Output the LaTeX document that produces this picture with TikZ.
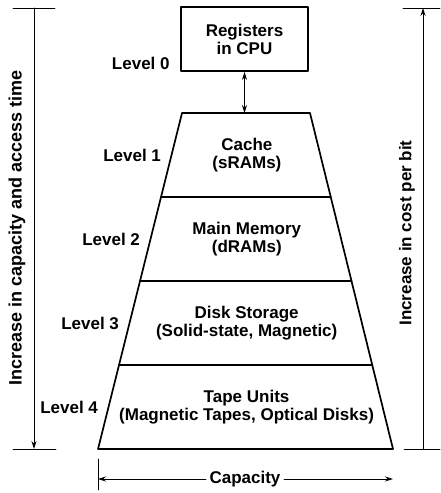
\documentclass[tikz,border=0pt]{standalone}
\usepackage{fontspec}
\setmainfont{Liberation Sans}
\usetikzlibrary{arrows.meta,calc}

\tikzset{
  lvl/.style={anchor=east,font=\bfseries\fontsize{17}{18}\selectfont},
  memtext/.style={align=center,font=\bfseries\fontsize{17}{18}\selectfont},
  axis/.style={line width=0.8pt},
  thickline/.style={line width=1.7pt},
  tip/.style={-{Stealth[length=8pt,width=5pt]}},
}

\begin{document}
\begin{tikzpicture}[x=1pt,y=-1pt,line cap=round,line join=round]
  \useasboundingbox (0,0) rectangle (440,493);

  % pyramid corners
  \coordinate (TL) at (182,113);
  \coordinate (TR) at (310,113);
  \coordinate (BL) at (98,449);
  \coordinate (BR) at (393,449);

  \draw[thickline] (TL) -- (TR) -- (BR) -- (BL) -- cycle;
  \foreach \t in {0.25,0.5,0.75}{
    \draw[thickline] ($(TL)!\t!(BL)$) -- ($(TR)!\t!(BR)$);
  }

  \node[draw,thickline,memtext,minimum width=127pt,minimum height=64pt] (reg) at (244.5,39) {Registers\\in CPU};
  \node[lvl] (lvl0) at ($(reg.south west)+(-7,-8)$) {Level 0};
  \draw[axis,{Stealth[length=8pt,width=5pt]}-{Stealth[length=8pt,width=5pt]}] (reg.south) -- (reg.south |- TL);

  \foreach \name/\t/\txt [count=\i] in {cache/0.125/{Cache\\(sRAMs)},
      mainmem/0.375/{Main Memory\\(dRAMs)},
      disk/0.625/{Disk Storage\\(Solid-state, Magnetic)},
      tape/0.875/{Tape Units\\(Magnetic Tapes, Optical Disks)}}{
    \node[memtext] (\name) at ($($(TL)!\t!(BL)$)!0.5!($(TR)!\t!(BR)$)+(1,0)$) {\txt};
    \node[lvl] (lvl\i) at ($($(TL)!\t!(BL)$)+(-7,0)$) {Level \i};
  }

  % left axis
  \coordinate (ltop) at (34,8);
  \coordinate (lbot) at (34,449);
  \draw[axis] ($(ltop)+(-21,0)$) -- ($(ltop)+(21,0)$);
  \draw[axis] ($(lbot)+(-21,0)$) -- ($(lbot)+(22,0)$);
  \draw[axis,tip] (ltop) -- (lbot);
  \node[memtext,rotate=90,font=\bfseries\fontsize{18}{19}\selectfont] (acctime) at (17,228) {Increase in capacity and access time};

  % right axis
  \coordinate (rtop) at (423,8);
  \coordinate (rbot) at (423,449);
  \draw[axis] ($(rtop)+(-20,0)$) -- ($(rtop)+(17,0)$);
  \draw[axis] ($(rbot)+(-19,0)$) -- ($(rbot)+(17,0)$);
  \draw[axis,tip] (rbot) -- (rtop);
  \node[memtext,rotate=90] (cost) at (407,233) {Increase in cost per bit};

  % capacity
  \node[memtext] (cap) at (245,479) {Capacity};
  \coordinate (capL) at (98,479);
  \coordinate (capR) at (393,479);
  \draw[axis] (98,459) -- (98,490);
  \draw[axis,tip] (cap.west) -- (capL);
  \draw[axis,tip] (cap.east) -- (capR);
\end{tikzpicture}
\end{document}
